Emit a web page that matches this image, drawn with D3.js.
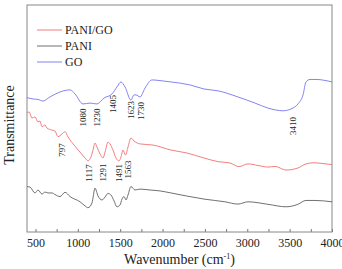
<!DOCTYPE html>
<html>
<head>
<meta charset="utf-8">
<style>
body { margin: 0; background: #fff; }
.frame { fill: none; stroke: #888; stroke-width: 1; }
.line { fill: none; stroke-width: 0.9; stroke-linejoin: round; }
</style>
</head>
<body>
<svg width="342" height="269"></svg>
<script src="https://d3js.org/d3.v7.min.js"></script>
<script>
// spectra: [wavenumber, transmittance (a.u.)]
var goData = [[400,59.2],[471,58.6],[530,58.4],[589,57.7],[671,59.5],[790,61.7],[908,62.6],[967,60.8],
  [1061,56.4],[1144,56.8],[1226,56.4],[1309,59.0],[1403,60.8],[1462,63.9],[1509,66.1],[1557,63.9],
  [1627,58.1],[1663,60.4],[1687,60.4],[1734,59.5],[1793,63.4],[1875,67.0],[1970,66.7],[2100,66.1],
  [2324,64.8],[2489,63.0],[2654,62.2],[2890,59.5],[3091,56.8],[3244,54.6],[3422,53.4],[3528,54.4],
  [3598,56.4],[3658,60.4],[3693,66.1],[3740,67.2],[3811,67.2],[4000,66.1]];

var paniGoData = [[400,52.4],[424,52.9],[459,50.2],[494,50.7],[530,48.5],[553,48.9],[577,46.4],[612,47.1],
  [636,45.8],[695,44.9],[730,44.5],[766,42.0],[813,43.2],[849,44.2],[884,41.9],[955,38.3],[1026,35.2],
  [1085,32.6],[1120,31.4],[1155,33.0],[1179,36.1],[1203,39.2],[1226,37.4],[1262,34.4],[1297,32.6],
  [1321,35.2],[1356,39.6],[1380,38.8],[1415,36.1],[1450,32.6],[1486,31.3],[1509,33.0],[1533,36.1],
  [1563,33.9],[1592,37.4],[1627,41.4],[1663,40.1],[1734,38.8],[1887,38.3],[2100,36.1],[2288,34.8],
  [2489,32.6],[2654,31.0],[2796,30.4],[2902,28.8],[3008,30.0],[3126,29.3],[3244,28.6],[3327,28.9],
  [3457,27.3],[3598,28.2],[3693,30.0],[3787,30.5],[3882,30.2],[4000,29.7]];

var paniData = [[400,20.0],[435,19.8],[494,17.2],[530,18.5],[577,16.7],[612,17.6],[648,17.2],[695,17.2],
  [730,16.5],[790,15.6],[849,17.5],[908,15.6],[1026,13.3],[1085,11.5],[1120,10.7],[1167,12.8],
  [1203,19.3],[1238,15.9],[1285,14.1],[1321,15.4],[1356,17.0],[1391,16.3],[1427,13.7],[1462,11.1],
  [1498,11.9],[1521,14.5],[1545,15.6],[1569,14.1],[1592,16.3],[1627,20.0],[1675,18.5],[1734,18.9],
  [1852,18.5],[1970,18.1],[2100,17.2],[2489,14.5],[2737,13.3],[2890,12.3],[3008,13.3],[3244,12.2],
  [3457,11.1],[3598,12.2],[3693,13.9],[3799,13.9],[4000,13.3]];

var seriesNames = ["PANI/GO", "PANI", "GO"];
var seriesColors = ["#f07070", "#606060", "#7676ee"];

// band labels: [text, wavenumber where drawn, transmittance level of label centre]
var goLabels = [["1080",1061,50.4],["1230",1226,50.4],["1405",1415,56.4],["1623",1627,53.7],["1730",1745,53.3],["3410",3540,46.7]];
var paniGoLabels = [["797",807,36.1],["1117",1126,26.0],["1291",1297,26.2],["1491",1486,26.0],["1563",1592,27.5]];

var xTicks = [500,1000,1500,2000,2500,3000,3500,4000];

var serif = "Liberation Serif";

var svg = d3.select("svg"),
    margin = {top: 5, right: 10, bottom: 37, left: 27},
    width = 342 - margin.left - margin.right,
    height = 269 - margin.top - margin.bottom;

svg.attr("font-family", serif);

var g = svg.append("g").attr("transform", "translate(" + margin.left + "," + margin.top + ")");

var x = d3.scaleLinear().domain([400, 4000]).range([0, width]);
var y = d3.scaleLinear().domain([0, 100]).range([height, 0]);

// inner ticks every 250, labels every 500
g.append("g")
  .attr("transform", "translate(0," + height + ")")
  .call(d3.axisBottom(x).tickValues(d3.range(500, 4001, 250)).tickSize(-3).tickPadding(6)
    .tickFormat(function(d) { return xTicks.indexOf(d) >= 0 ? d : ""; }))
  .attr("font-family", serif).attr("font-size", 12)
  .call(function(a) {
    a.select(".domain").remove();
    a.selectAll(".tick line").attr("stroke", "#777");
    a.selectAll(".tick text").attr("fill", "#222");
  });

g.append("rect").attr("class", "frame").attr("width", width).attr("height", height);

var line = d3.line()
  .x(function(d) { return x(d[0]); })
  .y(function(d) { return y(d[1]); })
  .curve(d3.curveMonotoneX);

[paniGoData, paniData, goData].forEach(function(s, i) {
  g.append("path").attr("class", "line").attr("stroke", seriesColors[i]).attr("d", line(s));
});

// band labels, rotated
function bandLabels(list) {
  g.selectAll(null).data(list).enter().append("text")
    .attr("transform", function(d) { return "translate(" + x(d[1]) + "," + y(d[2]) + ") rotate(-90)"; })
    .attr("text-anchor", "middle")
    .attr("dy", "0.35em")
    .attr("font-size", 9).attr("fill", "#222")
    .text(function(d) { return d[0]; });
}
bandLabels(goLabels);
bandLabels(paniGoLabels);

// legend
var legend = g.selectAll(".legend").data(seriesNames).enter().append("g")
  .attr("transform", function(d, i) { return "translate(10," + (25 + i * 16) + ")"; });
legend.append("line").attr("x1", 0).attr("x2", 25)
  .attr("stroke", function(d, i) { return seriesColors[i]; }).attr("stroke-width", 0.9);
legend.append("text").attr("x", 28).attr("dy", "0.35em")
  .attr("font-size", 12).attr("fill", "#222")
  .text(function(d) { return d; });

// axis titles
var xt = svg.append("text")
  .attr("x", margin.left + width / 2).attr("y", 264)
  .attr("text-anchor", "middle")
  .attr("font-size", 14).attr("fill", "#222");
xt.append("tspan").text("Wavenumber (cm");
xt.append("tspan").attr("dy", -5).attr("font-size", 8).text("-1");
xt.append("tspan").attr("dy", 5).text(")");

svg.append("text")
  .attr("transform", "translate(14," + (margin.top + 120) + ") rotate(-90)")
  .attr("text-anchor", "middle")
  .attr("font-size", 14).attr("fill", "#222")
  .text("Transmittance");
</script>
</body>
</html>
